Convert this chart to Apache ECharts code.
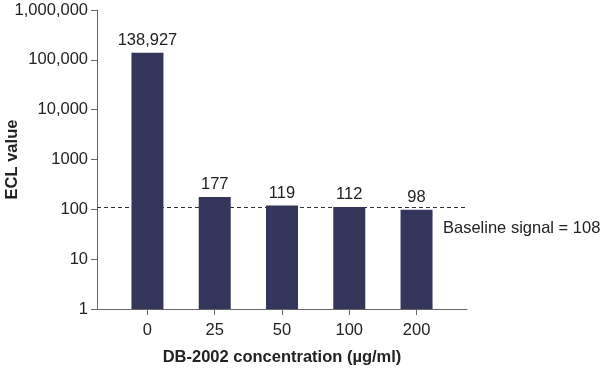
<!DOCTYPE html>
<html>
<head>
<meta charset="utf-8">
<script src="https://cdn.jsdelivr.net/npm/echarts@6/dist/echarts.min.js"></script>
<style>
  html, body { margin: 0; padding: 0; background: #fff; }
  #chart { width: 602px; height: 369px; }
</style>
</head>
<body>
<div id="chart"></div>
<script>
const concentrations = ["0", "25", "50", "100", "200"];
const eclValues = [138927, 177, 119, 112, 98];
const baseline = 108;
const yTickLabels = { 1: "1", 10: "10", 100: "100", 1000: "1000", 10000: "10,000", 100000: "100,000", 1000000: "1,000,000" };

const FONT = "Liberation Sans, Arial, sans-serif";
const FS = 16.5;
const TEXT = "#222";
const AXIS = "#666";

const chart = echarts.init(document.getElementById("chart"), undefined, { renderer: "canvas" });

const option = {
  backgroundColor: "#fff",
  animation: false,
  grid: { left: 97, top: 10, right: 135, bottom: 60, containLabel: false, outerBoundsMode: "none" },
  xAxis: {
    type: "value",
    min: -0.75,
    max: 4.75,
    name: "DB-2002 concentration (µg/ml)",
    nameLocation: "middle",
    nameGap: 40,
    nameMoveOverlap: false,
    nameTextStyle: { fontFamily: FONT, fontSize: FS, fontWeight: "bold", color: TEXT },
    splitLine: { show: false },
    axisLine: { onZero: false, lineStyle: { color: AXIS, width: 1 } },
    axisTick: { show: true, length: 6, customValues: [0, 1, 2, 3, 4], lineStyle: { color: AXIS } },
    axisLabel: {
      customValues: [0, 1, 2, 3, 4],
      formatter: (v) => concentrations[Math.round(v)],
      fontFamily: FONT, fontSize: FS, color: TEXT, margin: 13
    }
  },
  yAxis: {
    type: "log",
    logBase: 10,
    min: 1,
    max: 1000000,
    name: "ECL value",
    nameLocation: "middle",
    nameGap: 76,
    nameRotate: 90,
    nameMoveOverlap: false,
    nameTextStyle: { fontFamily: FONT, fontSize: FS, fontWeight: "bold", color: TEXT },
    splitLine: { show: false },
    minorTick: { show: false },
    axisLine: { show: true, onZero: false, lineStyle: { color: AXIS, width: 1 } },
    axisTick: { show: true, length: 6, lineStyle: { color: AXIS } },
    axisLabel: {
      formatter: (v) => yTickLabels[Math.round(v)] || "",
      fontFamily: FONT, fontSize: FS, color: TEXT, margin: 9
    }
  },
  series: [
    {
      type: "bar",
      data: eclValues.map((v, i) => [i, v]),
      barWidth: 32,
      itemStyle: { color: "#33365a" },
      label: {
        show: true,
        position: "top",
        distance: 4,
        formatter: (p) => p.value[1].toLocaleString("en-US"),
        fontFamily: FONT, fontSize: FS, color: TEXT
      },
      markLine: {
        silent: true,
        z: 1,
        symbol: "none",
        label: { show: false },
        lineStyle: { color: "#333", type: [4, 3], width: 1 },
        data: [{ yAxis: baseline }]
      },
      z: 3
    }
  ],
  graphic: [
    {
      type: "text",
      left: 443,
      top: 220,
      style: { text: "Baseline signal = " + baseline, font: FS + "px " + FONT, fill: TEXT }
    }
  ]
};

chart.setOption(option);
</script>
</body>
</html>
